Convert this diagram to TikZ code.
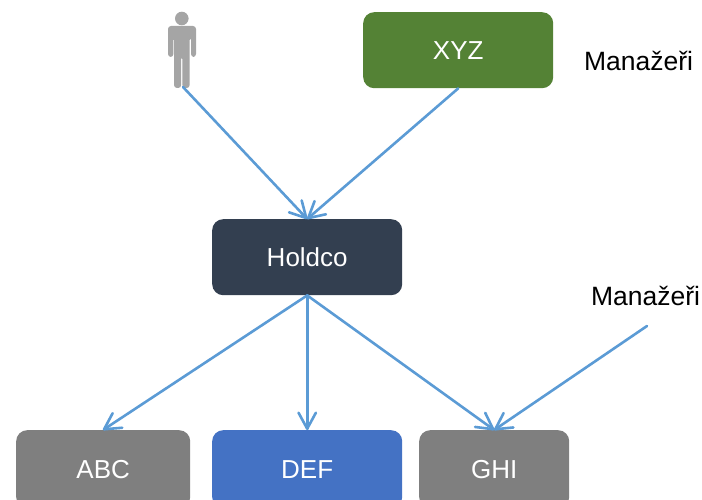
\documentclass[tikz,border=0pt]{standalone}
\usepackage{fontspec}
\setmainfont{Liberation Sans}
\usetikzlibrary{arrows.meta}
\pgfarrowsdeclare{vtip}{vtip}{\pgfarrowsleftextend{-16pt}\pgfarrowsrightextend{1.3pt}}{%
  \pgfsetroundcap\pgfsetroundjoin\pgfsetdash{}{0pt}%
  \pgfpathmoveto{\pgfpoint{-16pt}{8.7pt}}%
  \pgfpathlineto{\pgfpointorigin}%
  \pgfpathlineto{\pgfpoint{-16pt}{-8.7pt}}%
  \pgfusepathqstroke}
\tikzset{
  box/.style={draw=none,rounded corners=11pt,minimum height=76pt,inner sep=0pt,text=white,font=\fontsize{26}{30}\selectfont,anchor=north west},
  lab/.style={font=\fontsize{26.5}{30}\selectfont,text=black,inner sep=0pt},
  conn/.style={draw=lineblue,line width=2.6pt,line cap=round,arrows=-vtip},
}
\definecolor{lineblue}{HTML}{5B9BD5}
\definecolor{persongray}{HTML}{A5A5A5}
\definecolor{greenbox}{HTML}{548235}
\definecolor{navybox}{HTML}{333F50}
\definecolor{graybox}{HTML}{7F7F7F}
\definecolor{bluebox}{HTML}{4472C4}
\begin{document}
\begin{tikzpicture}[x=1pt,y=-1pt]
\useasboundingbox (0,0) rectangle (702,500);
% person
\fill[persongray] (181.8,18.5) circle (6.8);
\fill[persongray,rounded corners=3pt] (168,26) -- (196,26) -- (196,57) -- (191,57) -- (191,37) -- (189.7,37) -- (189.7,88) -- (182.3,88) -- (182.3,56) -- (181.2,56) -- (181.2,88) -- (174,88) -- (174,37) -- (173.4,37) -- (173.4,57) -- (168,57) -- cycle;
\node[minimum width=28pt,minimum height=77pt,inner sep=0pt] (person) at (182,50) {};
\node[box,fill=greenbox,minimum width=190pt] (xyz) at (363,12) {XYZ};
\node[box,fill=navybox,minimum width=190pt] (holdco) at (212,219) {\raisebox{-1pt}{Holdco}};
\node[box,fill=graybox,minimum width=174pt,minimum height=78pt] (abc) at (16,430) {ABC};
\node[box,fill=bluebox,minimum width=190pt,minimum height=78pt] (def) at (212,430) {DEF};
\node[box,fill=graybox,minimum width=150pt,minimum height=78pt] (ghi) at (419,430) {GHI};
\node[lab] (m1) at (638.5,61) {Manažeři};
\node[lab] (m2) at (645.5,296) {Manažeři};
\coordinate (free) at (647,326);
\coordinate (pfoot) at (183,87);
\coordinate (holdtop) at (holdco.north);
\draw[conn] (pfoot) -- (holdtop);
\draw[conn] (xyz.south) -- (holdtop);
\coordinate (holdbot) at (holdco.south);
\coordinate (abctop) at (103,430);
\draw[conn] (holdbot) -- (abctop);
\draw[conn] (holdbot) -- (def.north);
\draw[conn] (holdbot) -- (ghi.north);
\draw[conn] (free) -- (ghi.north);
\end{tikzpicture}
\end{document}
